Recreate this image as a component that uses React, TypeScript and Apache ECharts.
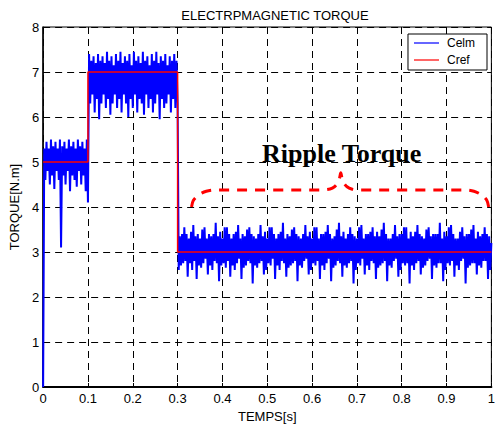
import React, { useEffect, useRef } from "react";
import * as echarts from "echarts";

// Sample step of the measured torque (s)
const STEP = 0.0025;

// Celm, 0 .. 0.1 s (reference 5 N.m)
const celmStage1 = [0, 5.3, 4.6, 5.45, 4.8, 5.3, 4.5, 5.5, 4.7, 5.35, 4.4, 5.45, 4.8, 5.3, 4.6, 5.5, 3.1, 5.35, 4.7, 5.45, 4.5, 5.3, 4.8, 5.5, 4.35, 5.35, 4.7, 5.45, 4.6, 5.3, 4.45, 5.5, 4.8, 5.35, 4.5, 5.45, 4.7, 5.3, 4.35, 5.5, 4.1];

// Celm, 0.1 .. 0.3 s (reference 7 N.m)
const celmStage2 = [
  7.4, 6.3, 7.25, 6.5, 7.35, 6.1, 7.2, 6.4, 7.4, 5.95, 7.25, 6.3, 7.35, 6.5, 7.2, 6.2, 7.45, 6.4, 7.25, 6.05,
  7.35, 6.3, 7.15, 6.5, 7.4, 6.2, 7.25, 6.4, 7.45, 6.1, 7.2, 6.5, 7.35, 6.3, 7.25, 6.0, 7.4, 6.4, 7.15, 6.2,
  7.45, 6.5, 7.25, 6.1, 7.35, 6.4, 7.2, 6.3, 7.45, 6.05, 7.25, 6.5, 7.35, 6.2, 7.15, 6.4, 7.4, 6.1, 7.25, 6.3,
  7.45, 6.5, 7.2, 5.95, 7.35, 6.4, 7.25, 6.2, 7.4, 6.3, 7.15, 6.5, 7.35, 6.1, 7.25, 6.4, 7.4, 6.2, 7.25, 6.3,
];

// Celm, 0.3 .. 1.0 s (reference 3 N.m)
const celmStage3 = [
  2.6, 3.35, 2.7, 3.4, 2.75, 3.55, 2.8, 3.4, 2.45, 3.3,
  2.75, 3.45, 2.6, 3.6, 2.8, 3.35, 2.4, 3.4, 2.7, 3.3,
  2.65, 3.5, 2.75, 3.55, 2.85, 3.3, 2.5, 3.4, 2.7, 3.35,
  2.6, 3.4, 2.8, 3.65, 2.75, 3.35, 2.35, 3.45, 2.7, 3.3,
  2.75, 3.55, 2.65, 3.55, 2.8, 3.4, 2.45, 3.3, 2.7, 3.4,
  2.6, 3.45, 2.75, 3.6, 2.85, 3.3, 2.4, 3.4, 2.65, 3.35,
  2.7, 3.5, 2.8, 3.55, 2.75, 3.4, 2.3, 3.35, 2.7, 3.3,
  2.65, 3.4, 2.75, 3.6, 2.8, 3.35, 2.5, 3.45, 2.6, 3.3,
  2.75, 3.55, 2.7, 3.55, 2.85, 3.4, 2.4, 3.3, 2.7, 3.4,
  2.6, 3.45, 2.8, 3.65, 2.75, 3.3, 2.45, 3.4, 2.65, 3.35,
  2.7, 3.5, 2.75, 3.55, 2.8, 3.4, 2.35, 3.35, 2.7, 3.3,
  2.65, 3.4, 2.8, 3.6, 2.85, 3.35, 2.5, 3.45, 2.6, 3.3,
  2.75, 3.55, 2.7, 3.55, 2.8, 3.3, 2.4, 3.4, 2.7, 3.4,
  2.6, 3.45, 2.75, 3.6, 2.85, 3.4, 2.35, 3.3, 2.65, 3.35,
  2.7, 3.5, 2.8, 3.65, 2.75, 3.35, 2.45, 3.45, 2.7, 3.3,
  2.65, 3.4, 2.75, 3.55, 2.8, 3.4, 2.3, 3.35, 2.6, 3.3,
  2.75, 3.55, 2.7, 3.6, 2.85, 3.3, 2.5, 3.4, 2.7, 3.4,
  2.6, 3.45, 2.8, 3.55, 2.75, 3.35, 2.4, 3.45, 2.65, 3.35,
  2.7, 3.5, 2.75, 3.65, 2.8, 3.4, 2.35, 3.3, 2.7, 3.3,
  2.65, 3.4, 2.8, 3.6, 2.85, 3.35, 2.45, 3.4, 2.6, 3.4,
  2.75, 3.55, 2.7, 3.55, 2.75, 3.3, 2.3, 3.45, 2.7, 3.35,
  2.6, 3.45, 2.75, 3.6, 2.8, 3.4, 2.5, 3.35, 2.65, 3.3,
  2.7, 3.5, 2.8, 3.55, 2.85, 3.35, 2.4, 3.4, 2.7, 3.4,
  2.65, 3.4, 2.75, 3.65, 2.75, 3.3, 2.35, 3.45, 2.6, 3.35,
  2.75, 3.55, 2.7, 3.6, 2.8, 3.4, 2.45, 3.3, 2.7, 3.3,
  2.6, 3.45, 2.8, 3.55, 2.85, 3.35, 2.3, 3.4, 2.65, 3.4,
  2.7, 3.5, 2.75, 3.6, 2.75, 3.3, 2.5, 3.45, 2.7, 3.35,
  2.65, 3.4, 2.8, 3.55, 2.8, 3.4, 2.4, 3.35, 2.6, 3.2,
];

// Cref step reference
const crefTimes = [0, 0.1, 0.1, 0.3, 0.3, 1.0];
const crefValues = [5, 5, 7, 7, 3, 3];

// "Ripple Torque" brace annotation (time, torque)
const braceTimes = [0.331, 0.335, 0.347, 0.364, 0.385, 0.625, 0.64, 0.65, 0.657, 0.661, 0.664, 0.667, 0.671, 0.678, 0.688, 0.703, 0.94, 0.961, 0.978, 0.99, 0.994];
const braceValues = [4.0, 4.145, 4.269, 4.351, 4.38, 4.38, 4.4, 4.45, 4.53, 4.63, 4.76, 4.63, 4.53, 4.45, 4.4, 4.38, 4.38, 4.351, 4.269, 4.145, 4.0];
const annotationText = "Ripple Torque";
const annotationPos: [number, number] = [0.666, 5.18];

const xTicks = [0, 1, 0.1];
const yTicks = [0, 8, 1];

export default function App() {
  const ref = useRef<HTMLDivElement>(null);
  useEffect(() => {
    if (!ref.current) return;
    const chart = echarts.init(ref.current, undefined, { renderer: "svg" });
    const celm = [...celmStage1, ...celmStage2, ...celmStage3];
    const celmData = celm.map((v, i) => [+(i * STEP).toFixed(4), v]);
    const crefData = crefTimes.map((t, i) => [t, crefValues[i]]);
    const braceData = braceTimes.map((t, i) => [t, braceValues[i]]);
    const font = "Arial, 'Liberation Sans', sans-serif";
    chart.setOption({
      animation: false,
      backgroundColor: "#fff",
      title: {
        text: "ELECTRPMAGNETIC TORQUE",
        left: 270,
        textAlign: "center",
        top: 4,
        textStyle: { fontFamily: font, fontSize: 13, fontWeight: "normal", color: "#000" },
      },
      legend: {
        data: ["Celm", "Cref"],
        orient: "vertical",
        right: 11,
        top: 34,
        backgroundColor: "#fff",
        borderColor: "#000",
        borderWidth: 1,
        borderRadius: 0,
        padding: [3, 12, 4, 6],
        itemGap: 5,
        itemWidth: 25,
        itemHeight: 2,
        icon: "rect",
        textStyle: { fontFamily: font, fontSize: 12, color: "#000", padding: [0, 0, 0, 3] },
      },
      grid: {
        left: 43,
        right: 2,
        top: 27,
        bottom: 41,
        show: true,
        borderColor: "#000",
        borderWidth: 1,
        backgroundColor: "transparent",
      },
      xAxis: {
        type: "value",
        min: xTicks[0],
        max: xTicks[1],
        interval: xTicks[2],
        name: "TEMPS[s]",
        nameLocation: "middle",
        nameGap: 20,
        nameTextStyle: { fontFamily: font, fontSize: 13, color: "#000" },
        axisLine: { show: true, lineStyle: { color: "#000", width: 2 } },
        axisTick: { show: true, inside: true, length: 4, lineStyle: { color: "#000" } },
        axisLabel: { fontFamily: font, fontSize: 13, color: "#000", margin: 5 },
        splitLine: { show: true, lineStyle: { color: "#000", type: [7, 5], width: 1 } },
      },
      yAxis: {
        type: "value",
        min: yTicks[0],
        max: yTicks[1],
        interval: yTicks[2],
        name: "TORQUE[N.m]",
        nameLocation: "middle",
        nameGap: 19,
        nameRotate: 90,
        nameTextStyle: { fontFamily: font, fontSize: 13, color: "#000" },
        axisLine: { show: true, lineStyle: { color: "#000", width: 1.5 } },
        axisTick: { show: true, inside: true, length: 4, lineStyle: { color: "#000" } },
        axisLabel: { fontFamily: font, fontSize: 13, color: "#000", margin: 4 },
        splitLine: { show: true, lineStyle: { color: "#000", type: [7, 5], width: 1 } },
      },
      series: [
        {
          name: "Celm",
          type: "line",
          data: celmData,
          showSymbol: false,
          symbol: "none",
          lineStyle: { color: "#0000ff", width: 2 },
          itemStyle: { color: "#6666ff" },
          z: 2,
        },
        {
          name: "Cref",
          type: "line",
          data: crefData,
          showSymbol: false,
          symbol: "none",
          lineStyle: { color: "#ff0000", width: 1.5 },
          itemStyle: { color: "#ff6666" },
          z: 3,
        },
        {
          name: "brace",
          type: "line",
          data: braceData,
          showSymbol: false,
          symbol: "none",
          smooth: 0.3,
          lineStyle: { color: "#ff0000", width: 3, type: [10, 8] },
          z: 4,
        },
        {
          name: "annotation",
          type: "scatter",
          data: [annotationPos],
          symbolSize: 0,
          itemStyle: { opacity: 1 },
          label: {
            show: true,
            position: "inside",
            formatter: annotationText,
            fontFamily: "'Liberation Serif', 'Times New Roman', serif",
            fontWeight: "bold",
            fontSize: 26,
            color: "#000",
            opacity: 1,
            textBorderWidth: 0,
            textBorderColor: "transparent",
          },
          z: 5,
        },
      ],
    });
    return () => chart.dispose();
  }, []);
  return (
    <div
      ref={ref}
      style={{ position: "fixed", left: 0, top: 0, width: 498, height: 428 }}
    />
  );
}
